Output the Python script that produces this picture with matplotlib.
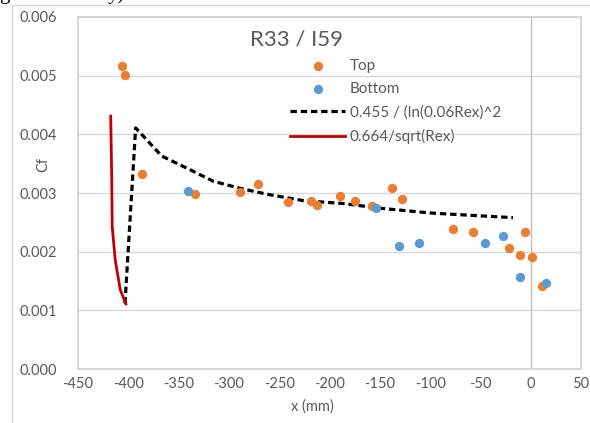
import matplotlib
matplotlib.use("Agg")
import matplotlib.pyplot as plt
from matplotlib.patches import Rectangle

plt.rcParams['font.family'] = ['Lato', 'DejaVu Sans']
plt.rcParams['axes.unicode_minus'] = False

# measured skin friction, top surface
top_x = [-406, -403, -386, -333.5, -289, -271, -241, -218, -212, -190, -174.5,
         -157.6, -138, -128, -77, -57, -22, -10.6, -6, 1, 10.9]
top_cf = [0.00517, 0.00501, 0.00333, 0.00298, 0.00301, 0.00316, 0.00284, 0.00287,
          0.00279, 0.00295, 0.00287, 0.00277, 0.00309, 0.00289, 0.00239, 0.00234,
          0.00206, 0.00194, 0.00234, 0.00191, 0.00142]

# bottom surface
bot_x = [-341, -154, -131, -110.6, -45.4, -28, -10.6, 15.6]
bot_cf = [0.00304, 0.00274, 0.00209, 0.00214, 0.00214, 0.00226, 0.00157, 0.00146]

# turbulent correlation curve
turb_x = [-403.3, -392.7, -366.8, -339, -315.5, -289, -259.3, -226, -186,
          -149.6, -100.3, -60, -17.6]
turb_cf = [0.00112, 0.00411, 0.00363, 0.00340, 0.00320, 0.00308, 0.00297,
           0.00287, 0.00282, 0.00274, 0.00266, 0.00262, 0.00258]

# laminar (Blasius) curve
lam_x = [-417.5, -416.5, -416, -413, -408, -402.4]
lam_cf = [0.00431, 0.00330, 0.00243, 0.00186, 0.00135, 0.00111]

x_ticks = list(range(-450, 51, 50))
y_ticks = [0.000, 0.001, 0.002, 0.003, 0.004, 0.005, 0.006]

W, H = 590, 423
grey = "#595959"

fig = plt.figure(figsize=(W / 100, H / 100), dpi=100)
ax = fig.add_axes([78 / W, 1 - 369 / H, (581 - 78) / W, (369 - 17) / H])

# chart area border (cropped on bottom/right)
fig.add_artist(Rectangle((12 / W, -0.2), 1.5, 1.2 - 5 / H, transform=fig.transFigure,
                         fill=False, edgecolor="#D9D9D9", lw=1))

# fragment of surrounding document text, cut at the top
fig.text(-1 / W, 1 + 1 / H, "g", family="Liberation Serif", fontsize=15,
         va="baseline", ha="left", color="black")
fig.text(108 / W, 1 + 1 / H, "y)", family="Liberation Serif", fontsize=15,
         va="baseline", ha="left", color="black")

ax.set_xlim(-450, 50)
ax.set_ylim(0, 0.006)
ax.set_xticks(x_ticks)
ax.set_yticks(y_ticks)
ax.set_yticklabels([f"{v:.3f}" for v in y_ticks])
ax.grid(axis="y", color="#D9D9D9", lw=1)
ax.set_axisbelow(True)
ax.axvline(0, color="#BFBFBF", lw=1, zorder=1)
for s in ax.spines.values():
    s.set_color("#D0D0D0")
    s.set_linewidth(1.2)
ax.tick_params(length=0, labelsize=10.5, labelcolor=grey)
ax.tick_params(axis="y", pad=15)
ax.tick_params(axis="x", pad=6)

ax.plot(turb_x, turb_cf, color="black", lw=2.3, ls=(0, (2.0, 1.2)),
        label="0.455 / (ln(0.06Rex)^2", zorder=3)
ax.plot(lam_x, lam_cf, color="#C00000", lw=2.0,
        label="0.664/sqrt(Rex)", zorder=3)
ax.scatter(top_x, top_cf, s=45, color="#ED7D31", label="Top", zorder=4, linewidths=0)
ax.scatter(bot_x, bot_cf, s=45, color="#5B9BD5", label="Bottom", zorder=4, linewidths=0)

h, l = ax.get_legend_handles_labels()
order = [2, 3, 0, 1]
leg = ax.legend([h[i] for i in order], [l[i] for i in order], loc="upper left",
                bbox_to_anchor=((290 - 78) / (581 - 78), (369 - 59) / (369 - 17)),
                frameon=False, fontsize=11, handlelength=3.6, handletextpad=0.3,
                labelspacing=0.6, borderpad=0, borderaxespad=0, scatterpoints=1)
for t in leg.get_texts():
    t.set_color(grey)

fig.text(296 / W, 1 - 40 / H, "R33 / I59", ha="center", va="center",
         fontsize=16, color=grey)
fig.text(312 / W, 1 - 407 / H, "x (mm)", ha="center", va="center", fontsize=10.5, color=grey)
fig.text(43 / W, 1 - 165 / H, "Cf", ha="center", va="center", rotation=90,
         fontsize=10.5, color=grey)

fig.savefig("out.png", dpi=100)
